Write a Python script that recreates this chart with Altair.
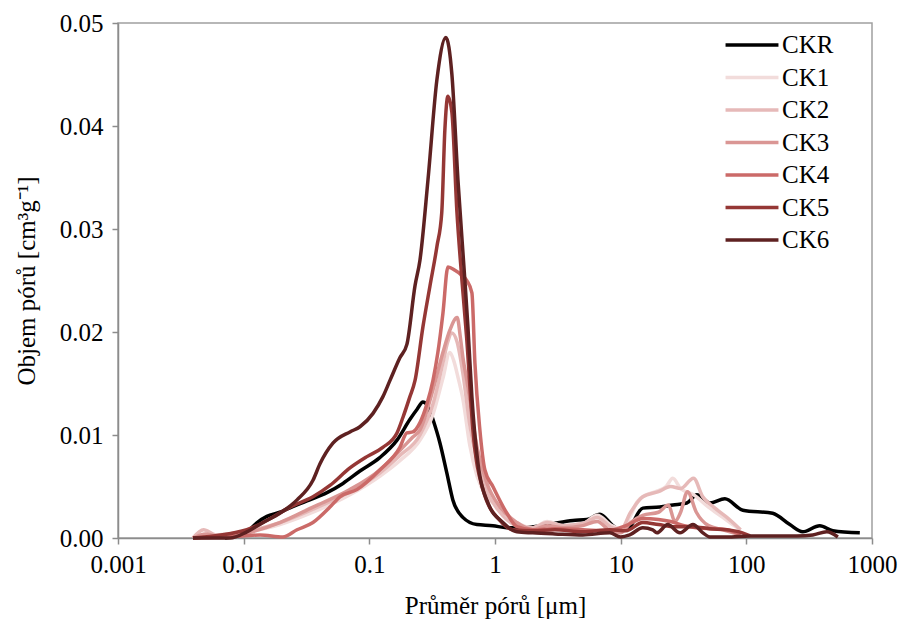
import altair as alt
import pandas as pd

SERIES = ["CKR", "CK1", "CK2", "CK3", "CK4", "CK5", "CK6"]
COLORS = ["#000000", "#f2dcdb", "#e6b9b8", "#da9694", "#cb6a68", "#953735", "#5e2121"]

CKR_X = [0.0071, 0.0106, 0.0128, 0.0153, 0.0194, 0.0221, 0.0319, 0.046, 0.0617, 0.0842, 0.121, 0.166, 0.21, 0.24, 0.267, 0.303, 0.321, 0.365, 0.414, 0.462, 0.555, 0.718, 0.962, 1.24, 1.58, 2.59, 4.17, 5.39, 6.84, 8.67, 9.86, 11.4, 15.0, 20.5, 26.0, 33.6, 40.4, 51.3, 67.5, 93.8, 162, 222, 281, 384, 488, 800]
CKR_Y = [0, 0.0006, 0.0015, 0.0021, 0.0025, 0.0028, 0.0036, 0.0044, 0.0053, 0.0065, 0.0078, 0.0095, 0.0115, 0.0125, 0.0132, 0.0124, 0.0115, 0.0092, 0.0063, 0.0037, 0.002, 0.0013, 0.0012, 0.001, 0.001, 0.0013, 0.0017, 0.0018, 0.0023, 0.0012, 0.0008, 0.0009, 0.0029, 0.003, 0.0032, 0.0034, 0.0042, 0.0034, 0.0038, 0.0027, 0.0024, 0.0013, 0.0006, 0.0012, 0.0007, 0.0005]

CK1_X = [0.00395, 0.0099, 0.0194, 0.0356, 0.07, 0.121, 0.175, 0.253, 0.321, 0.385, 0.437, 0.47, 0.51, 0.555, 0.63, 0.72, 0.863, 1.094, 1.494, 2.0, 2.6, 3.5, 5.0, 6.5, 8.5, 10.0, 11.8, 13.5, 16.0, 19.0, 23.0, 26.0, 30.0, 38.0, 50.0, 65.0, 80.0, 90.0]
CK1_Y = [0, 0.0005, 0.0013, 0.0025, 0.0042, 0.006, 0.0075, 0.0095, 0.012, 0.0155, 0.018, 0.0172, 0.0155, 0.0135, 0.009, 0.006, 0.004, 0.003, 0.0015, 0.001, 0.0016, 0.0012, 0.0014, 0.0022, 0.0012, 0.0009, 0.002, 0.0035, 0.0042, 0.0045, 0.005, 0.0058, 0.0048, 0.0042, 0.003, 0.002, 0.0012, 0.0008]

CK2_X = [0.00395, 0.0048, 0.006, 0.0075, 0.0099, 0.0194, 0.0356, 0.07, 0.121, 0.175, 0.253, 0.321, 0.385, 0.42, 0.454, 0.50, 0.555, 0.63, 0.72, 0.863, 1.094, 1.494, 2.0, 2.6, 3.5, 5.0, 6.5, 8.5, 10.0, 12.0, 15.0, 20.0, 25.0, 30.0, 38.0, 45.0, 55.0, 70.0, 90.0]
CK2_Y = [0, 0.0008, 0.0003, 0.0004, 0.0006, 0.0015, 0.0028, 0.0045, 0.0063, 0.008, 0.01, 0.013, 0.017, 0.019, 0.0199, 0.019, 0.016, 0.011, 0.0075, 0.0045, 0.0025, 0.0012, 0.001, 0.0015, 0.0012, 0.0014, 0.002, 0.001, 0.0008, 0.0025, 0.004, 0.0045, 0.005, 0.0048, 0.0058, 0.004, 0.003, 0.002, 0.0008]

CK3_X = [0.00395, 0.005, 0.0065, 0.0099, 0.0194, 0.0356, 0.07, 0.121, 0.175, 0.222, 0.253, 0.321, 0.385, 0.438, 0.50, 0.53, 0.556, 0.597, 0.72, 0.863, 1.094, 1.494, 2.0, 2.6, 3.5, 5.0, 6.5, 8.5, 10.0, 12.0, 15.0, 20.0, 24.0, 27.0, 30.0, 34.0, 40.0, 50.0, 65.0, 85.0]
CK3_Y = [0, 0.0004, 0.0001, 0.0004, 0.0015, 0.003, 0.0047, 0.0066, 0.0085, 0.0098, 0.0105, 0.0144, 0.018, 0.0202, 0.0214, 0.0195, 0.0175, 0.0153, 0.0088, 0.0053, 0.003, 0.0015, 0.0008, 0.0012, 0.001, 0.0012, 0.0016, 0.0006, 0.0005, 0.0015, 0.0022, 0.0025, 0.0032, 0.0016, 0.0025, 0.0045, 0.0025, 0.0012, 0.0008, 0.0004]

CK4_X = [0.00395, 0.00986, 0.0135, 0.0205, 0.0266, 0.0356, 0.0486, 0.0583, 0.0797, 0.121, 0.175, 0.199, 0.222, 0.253, 0.287, 0.321, 0.351, 0.385, 0.422, 0.48, 0.546, 0.597, 0.655, 0.692, 0.758, 0.831, 0.962, 1.244, 1.494, 2.0, 3.0, 5.0, 8.0, 11.0, 15.0, 20.0, 25.0, 32.0, 40.0, 55.0, 70.0, 90.0]
CK4_Y = [0, 0.0002, 0.0003, 0.0001, 0.0008, 0.0015, 0.003, 0.004, 0.0047, 0.0066, 0.0088, 0.0102, 0.0103, 0.0112, 0.013, 0.0153, 0.018, 0.0218, 0.0263, 0.026, 0.0255, 0.025, 0.0238, 0.017, 0.0105, 0.0066, 0.005, 0.0024, 0.0011, 0.0008, 0.0009, 0.0008, 0.0007, 0.0012, 0.0019, 0.0018, 0.0016, 0.0012, 0.001, 0.0009, 0.0008, 0.0003]

CK5_X = [0.00395, 0.0106, 0.0153, 0.0234, 0.0356, 0.0486, 0.0701, 0.0957, 0.128, 0.166, 0.185, 0.210, 0.231, 0.267, 0.303, 0.345, 0.377, 0.399, 0.422, 0.454, 0.498, 0.546, 0.597, 0.667, 0.802, 1.094, 1.388, 2.0, 3.0, 5.0, 8.2, 11.0, 15.0, 20.0, 27.0, 37.6, 51.0, 70.0, 93.0, 107.0]
CK5_Y = [0, 0.0008, 0.0017, 0.003, 0.004, 0.0051, 0.0068, 0.0079, 0.0088, 0.0102, 0.0117, 0.0137, 0.0153, 0.0205, 0.0244, 0.0283, 0.0316, 0.0396, 0.0429, 0.0413, 0.0316, 0.025, 0.0192, 0.0105, 0.0047, 0.0017, 0.0008, 0.0007, 0.0008, 0.0006, 0.0008, 0.0007, 0.0015, 0.0013, 0.0011, 0.0011, 0.0009, 0.0008, 0.0005, 0.0002]

CK6_X = [0.00395, 0.00778, 0.0106, 0.01425, 0.0194, 0.0266, 0.0356, 0.0405, 0.0513, 0.0701, 0.0842, 0.107, 0.128, 0.146, 0.175, 0.199, 0.231, 0.253, 0.293, 0.345, 0.407, 0.454, 0.507, 0.576, 0.609, 0.655, 0.731, 0.879, 1.156, 1.494, 2.0, 3.0, 5.0, 8.2, 10.0, 11.8, 15.0, 18.0, 19.4, 23.7, 29.6, 37.6, 45.1, 51.3, 70, 107, 252, 338, 437, 535]
CK6_Y = [0, 0, 0.0006, 0.0015, 0.0024, 0.0037, 0.0056, 0.0072, 0.0092, 0.0103, 0.0108, 0.0121, 0.0137, 0.0153, 0.0175, 0.0188, 0.0245, 0.027, 0.0348, 0.0445, 0.0486, 0.045, 0.0348, 0.025, 0.0205, 0.0137, 0.0073, 0.0034, 0.0015, 0.0006, 0.0005, 0.0004, 0.0003, 0.0005, 0.0001, 0.0003, 0.001, 0.0008, 0.0005, 0.0013, 0.0005, 0.0013, 0.0005, 0.0001, 0.0001, 0.0002, 0.0002, 0.0003, 0.0006, 0.0001]

X_TICKS = [0.001, 0.01, 0.1, 1, 10, 100, 1000]
Y_TICKS = [0.0, 0.01, 0.02, 0.03, 0.04, 0.05]

series_data = {
    "CKR": (CKR_X, CKR_Y), "CK1": (CK1_X, CK1_Y), "CK2": (CK2_X, CK2_Y),
    "CK3": (CK3_X, CK3_Y), "CK4": (CK4_X, CK4_Y), "CK5": (CK5_X, CK5_Y),
    "CK6": (CK6_X, CK6_Y),
}
rows = []
for i, name in enumerate(SERIES):
    xs, ys = series_data[name]
    for j, (xv, yv) in enumerate(zip(xs, ys)):
        rows.append({"serie": name, "d": xv, "v": yv, "k": i, "j": j})
df = pd.DataFrame(rows)

FONT = "Liberation Serif"
FS = 25

chart = alt.Chart(df).mark_line(strokeWidth=3.5, interpolate="monotone").encode(
    x=alt.X("d:Q",
            scale=alt.Scale(type="log", domain=[0.001, 1000], nice=False),
            axis=alt.Axis(values=X_TICKS, format="~g", title="Průměr pórů [μm]",
                          labelPadding=8, titlePadding=16, labelFlush=False,
                          labelOverlap=False)),
    y=alt.Y("v:Q",
            scale=alt.Scale(domain=[0, 0.05], nice=False, zero=True),
            axis=alt.Axis(values=Y_TICKS, format=".2f", title="Objem pórů [cm³g⁻¹]",
                          labelPadding=9, titlePadding=20, labelFlush=False)),
    color=alt.Color("serie:N",
                    scale=alt.Scale(domain=SERIES, range=COLORS),
                    sort=SERIES,
                    legend=alt.Legend(orient="none", legendX=619, legendY=7, title=None,
                                      symbolType="M-2,0L2,0", symbolStrokeWidth=3.5,
                                      symbolSize=700, labelFontSize=FS, labelFont=FONT,
                                      labelColor="black", labelOffset=15, rowPadding=4.5)),
    order=alt.Order("j:Q"),
    detail="serie:N",
).properties(
    width=754, height=515,
    autosize=alt.AutoSizeParams(type="none"),
    padding={"left": 118, "top": 23, "right": 31, "bottom": 92},
).configure_view(
    stroke="#a0a0a0", strokeWidth=1.5
).configure_axis(
    grid=False, domainColor="#8c8c8c", tickColor="#8c8c8c", domainWidth=1.5, tickWidth=1.5,
    tickSize=6, labelFont=FONT, labelFontSize=FS, labelColor="black",
    titleFont=FONT, titleFontSize=FS, titleFontWeight="normal", titleColor="black",
)

chart.save("out.html", embed_options={"renderer": "svg", "actions": False})
